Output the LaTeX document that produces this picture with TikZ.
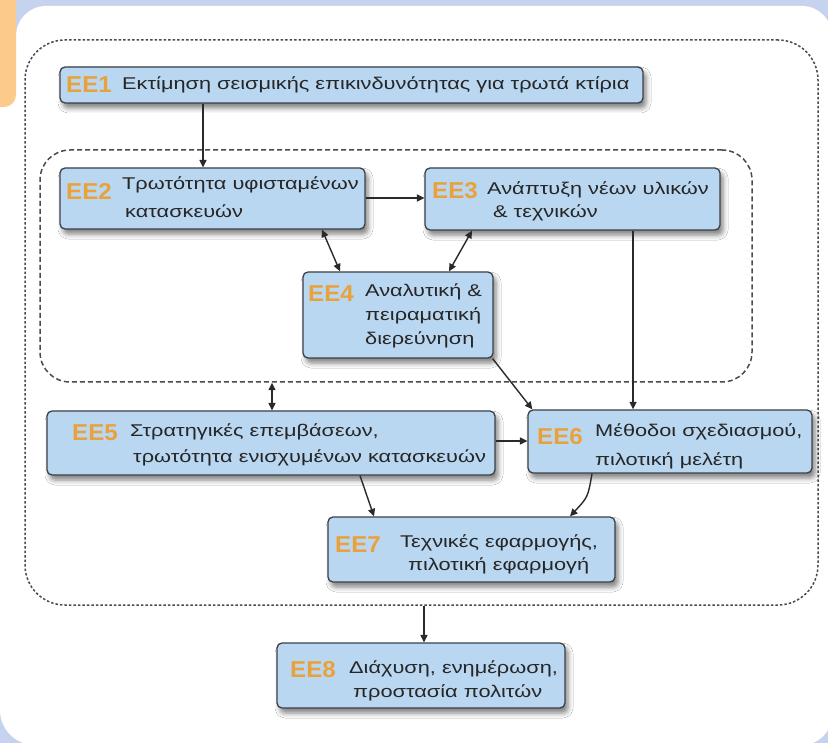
\documentclass[tikz,border=0pt]{standalone}
\usepackage{fontspec}
\setmainfont{Liberation Sans}[FakeStretch=1.28]
\newfontfamily\labfont{Liberation Sans}[FakeStretch=1.05]
\usetikzlibrary{arrows.meta,shadows.blur,calc}
\definecolor{bgblue}{HTML}{C6D3EF}
\definecolor{tabor}{HTML}{FCCB8C}
\definecolor{boxfill}{HTML}{BAD7F1}
\definecolor{boxline}{HTML}{3C3F48}
\definecolor{labor}{HTML}{E9A23B}
\definecolor{arr}{HTML}{2A2A2A}
\definecolor{dashc}{HTML}{4A4A50}
\begin{document}
\begin{tikzpicture}[x=1pt,y=-1pt,
  ebox/.style={draw=boxline,line width=1.3pt,fill=boxfill,rounded corners=5pt,inner sep=0pt,
    blur shadow={shadow xshift=3pt,shadow yshift=-5pt,shadow blur radius=5pt,shadow opacity=50}},
  lab/.style={anchor=base west,inner sep=0pt,text=labor,font=\labfont\bfseries\fontsize{23}{23}\selectfont},
  txt/.style={anchor=base west,inner sep=0pt,text=black!85,font=\fontsize{17}{20}\selectfont},
  tip/.tip={Triangle[length=7.5pt,width=7pt]},
  conn/.style={draw=arr,line width=1.4pt,-tip},
  dconn/.style={draw=arr,line width=1.4pt,tip-tip},
  frame/.style={draw=dashc,line width=1.5pt,inner sep=0pt,fill=none}
]
\useasboundingbox (0,0) rectangle (828,743);
% background
\fill[bgblue] (0,0) rectangle (828,743);
\fill[white,rounded corners=30pt] (16,6) rectangle (832,745);
\fill[white,rounded corners=35pt] (0,60) rectangle (200,745);
\fill[tabor,rounded corners=12pt] (-20,-20) rectangle (16,107);

% frames
\node[frame,dash pattern=on 2.5pt off 2pt,rounded corners=40pt,minimum width=793pt,minimum height=565pt] (outer) at (421.5,322.5) {};
\node[frame,dash pattern=on 5pt off 3pt,rounded corners=30pt,minimum width=712pt,minimum height=232pt] (inner) at (396,266) {};

% boxes
\node[ebox,minimum width=583pt,minimum height=36pt] (ee1) at (351.5,85) {};
\node[ebox,minimum width=305pt,minimum height=61pt] (ee2) at (212.5,198.5) {};
\node[ebox,minimum width=295pt,minimum height=62pt] (ee3) at (572.5,199) {};
\node[ebox,minimum width=190pt,minimum height=86pt] (ee4) at (398,315) {};
\node[ebox,minimum width=448pt,minimum height=64pt] (ee5) at (271,443) {};
\node[ebox,minimum width=284pt,minimum height=63pt] (ee6) at (670,441.5) {};
\node[ebox,minimum width=287pt,minimum height=65pt] (ee7) at (471.5,549.5) {};
\node[ebox,minimum width=288pt,minimum height=65pt] (ee8) at (421,675.5) {};

% labels and texts
\node[lab] (l1) at (66,93) {ΕΕ1};
\node[txt] (t1) at (122,90) {Εκτίμηση σεισμικής επικινδυνότητας για τρωτά κτίρια};

\node[lab] (l2) at (66,200) {ΕΕ2};
\node[txt] (t2a) at (122,190) {Τρωτότητα υφισταμένων};
\node[txt] (t2b) at (125,218) {κατασκευών};

\node[lab] (l3) at (432,199) {ΕΕ3};
\node[txt] (t3a) at (487,195) {Ανάπτυξη νέων υλικών};
\node[txt] (t3b) at (493,218) {\& τεχνικών};

\node[lab] (l4) at (308,302) {ΕΕ4};
\node[txt] (t4a) at (365,297) {Αναλυτική \&};
\node[txt] (t4b) at (365,321) {πειραματική};
\node[txt] (t4c) at (365,345) {διερεύνηση};

\node[lab] (l5) at (72,441) {ΕΕ5};
\node[txt] (t5a) at (130,437) {Στρατηγικές επεμβάσεων,};
\node[txt] (t5b) at (133,463) {τρωτότητα ενισχυμένων κατασκευών};

\node[lab] (l6) at (537,445) {ΕΕ6};
\node[txt] (t6a) at (595,437) {Μέθοδοι σχεδιασμού,};
\node[txt] (t6b) at (595,465) {πιλοτική μελέτη};

\node[lab] (l7) at (335,552) {ΕΕ7};
\node[txt] (t7a) at (400,547) {Τεχνικές εφαρμογής,};
\node[txt] (t7b) at (408,570) {πιλοτική εφαρμογή};

\node[lab] (l8) at (290,677) {ΕΕ8};
\node[txt] (t8a) at (349,673) {Διάχυση, ενημέρωση,};
\node[txt] (t8b) at (353,697) {προστασία πολιτών};

% connectors
\draw[conn] (203,0 |- ee1.south) -- (203,0 |- ee2.north);
\draw[conn] (ee2.east |- 0,198) -- (ee3.west |- 0,198);
\draw[dconn] (322,0 |- ee2.south) -- (340,0 |- ee4.north);
\draw[dconn] (472,0 |- ee3.south) -- (449,0 |- ee4.north);
\draw[conn] ($(ee4.south east)+(-1,0)$) -- ($(ee6.north west)+(5,0)$);
\draw[conn] (633,0 |- ee3.south) -- (633,0 |- ee6.north);
\draw[dconn] (272,0 |- inner.south) -- (272,0 |- ee5.north);
\draw[conn] (ee5.east |- 0,441) -- (ee6.west |- 0,441);
\draw[conn] (360,0 |- ee5.south) -- (374,0 |- ee7.north);
\draw[conn] (592,0 |- ee6.south) .. controls (588,497) .. (570,0 |- ee7.north);
\draw[conn] (424,0 |- outer.south) -- (424,0 |- ee8.north);
\end{tikzpicture}
\end{document}
